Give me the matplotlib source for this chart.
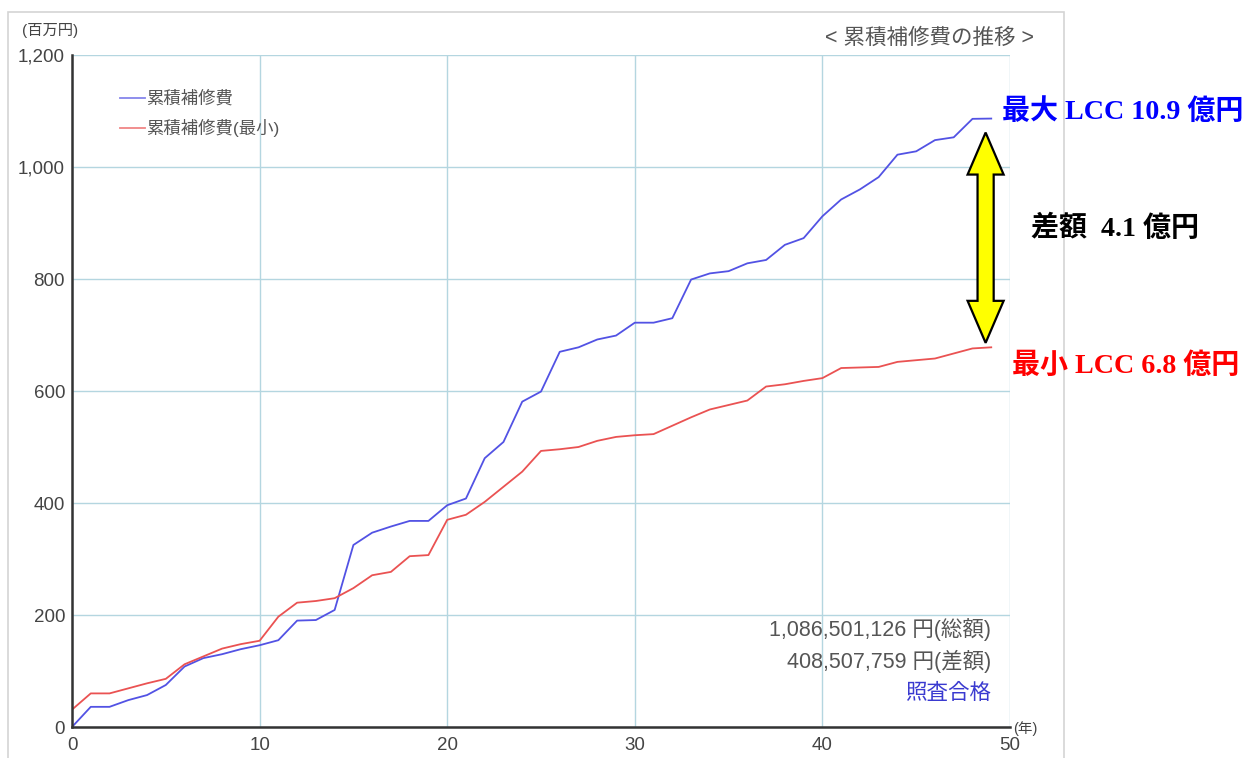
import matplotlib.pyplot as plt
from matplotlib.patches import Rectangle, Polygon

plt.rcParams['font.family'] = ['Liberation Sans', 'Noto Sans CJK JP', 'DejaVu Sans']

years = list(range(50))

# cumulative repair cost (million yen)
cost_max = [0, 36, 36, 48, 57, 75, 108, 123, 130, 139,
            146, 155, 190, 191, 209, 325, 347, 358, 368, 368,
            396, 408, 480, 509, 581, 599, 670, 678, 692, 699,
            722, 722, 730, 799, 810, 814, 828, 834, 861, 873,
            912, 942, 960, 982, 1022, 1028, 1048, 1053, 1086, 1086.5]
cost_min = [31, 60, 60, 69, 78, 86, 112, 126, 140, 148,
            154, 197, 222, 225, 230, 248, 271, 277, 305, 307,
            370, 379, 402, 429, 456, 493, 496, 500, 511, 518,
            521, 523, 538, 553, 567, 575, 583, 608, 612, 618,
            623, 641, 642, 643, 652, 655, 658, 667, 676, 678]

xticks = [0, 10, 20, 30, 40, 50]
yticks = [0, 200, 400, 600, 800, 1000, 1200]

W, H = 1248, 758
fig = plt.figure(figsize=(W / 100, H / 100), dpi=100)
ax = fig.add_axes([72 / W, 1 - 727 / H, (1010 - 72) / W, (727 - 55) / H])

# outer frame of the chart panel
fig.patches.append(Rectangle((8 / W, -0.01), (1064 - 8) / W, 1 - 12 / H + 0.01,
                             transform=fig.transFigure, fill=False,
                             edgecolor='#d4d4d4', linewidth=1.2))

blue = '#5252e4'
red = '#ea5252'
ax.plot(years, cost_max, color=blue, linewidth=1.3, label='累積補修費')
ax.plot(years, cost_min, color=red, linewidth=1.3, label='累積補修費(最小)')

ax.set_xlim(0, 50)
ax.set_ylim(0, 1200)
ax.set_xticks(xticks)
ax.set_yticks(yticks)
ax.set_yticklabels([f'{v:,}' for v in yticks])
ax.grid(True, color='#b4d6e0', linewidth=1.0)
ax.set_axisbelow(True)
for s in ['top', 'right']:
    ax.spines[s].set_visible(False)
for s in ['left', 'bottom']:
    ax.spines[s].set_color('#333333')
    ax.spines[s].set_linewidth(1.8)
ax.tick_params(length=0, labelsize=13.5, labelcolor='#444444')
ax.tick_params(axis='y', pad=5)
ax.tick_params(axis='x', pad=7)

leg = ax.legend(loc='upper left', bbox_to_anchor=(0.035, 0.971), frameon=False,
                fontsize=12.5, handlelength=1.4, handletextpad=0.1,
                labelspacing=0.72, labelcolor='#555555')
for h in leg.get_lines():
    h.set_alpha(0.7)

fig.text(22 / W, 1 - 31 / H, '(百万円)', fontsize=11, color='#444444',
         va='center', ha='left')
fig.text(1034 / W, 1 - 38 / H, '< 累積補修費の推移 >', fontsize=15.5,
         color='#555555', va='center', ha='right')
fig.text(1013 / W, 1 - 729 / H, '(年)', fontsize=10.5, color='#444444',
         va='center', ha='left')

ax.text(0.98, 0.145, '1,086,501,126 円(総額)', transform=ax.transAxes,
        fontsize=15.5, color='#555555', ha='right', va='center')
ax.text(0.98, 0.097, '408,507,759 円(差額)', transform=ax.transAxes,
        fontsize=15.5, color='#555555', ha='right', va='center')
ax.text(0.98, 0.05, '照査合格', transform=ax.transAxes,
        fontsize=15.5, color='#3a3ad0', ha='right', va='center')

# yellow double-headed arrow between the two totals
cx = 48.7
top = cost_max[-1] - 25
bot = cost_min[-1] + 8
sw, hw, hl = 0.43, 0.96, 75
pts = [(cx, top), (cx + hw, top - hl), (cx + sw, top - hl),
       (cx + sw, bot + hl), (cx + hw, bot + hl), (cx, bot),
       (cx - hw, bot + hl), (cx - sw, bot + hl), (cx - sw, top - hl),
       (cx - hw, top - hl)]
ax.add_patch(Polygon(pts, closed=True, facecolor='#ffff00', edgecolor='black',
                     linewidth=1.6, clip_on=False, zorder=5))

serif = ['Liberation Serif', 'Noto Sans CJK JP']
fig.text(1002 / W, 1 - 112 / H, '最大 LCC 10.9 億円', fontsize=20.2, color='#0000ff',
         family=serif, fontweight='bold', va='center', ha='left')
fig.text(1031 / W, 1 - 228 / H, '差額  4.1 億円', fontsize=20.2, color='black',
         family=serif, fontweight='bold', va='center', ha='left')
fig.text(1012 / W, 1 - 366 / H, '最小 LCC 6.8 億円', fontsize=20.2, color='#ff0000',
         family=serif, fontweight='bold', va='center', ha='left')

fig.savefig('out.png', dpi=100)
